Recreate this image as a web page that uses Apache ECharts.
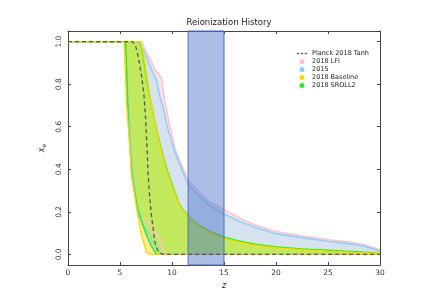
<!DOCTYPE html>
<html>
<head>
<meta charset="utf-8">
<script src="https://cdn.jsdelivr.net/npm/echarts@6/dist/echarts.min.js"></script>
<style>html,body{margin:0;padding:0;background:#fff}#c{width:435px;height:308px}</style>
</head>
<body>
<div id="c"></div>
<script>
const xTicks = [0, 5, 10, 15, 20, 25, 30];
const yTicks = [0, 0.2, 0.4, 0.6, 0.8, 1.0];
const legendNames = ['Planck 2018 Tanh', '2018 LFI', '2015', '2018 Baseline', '2018 SROLL2'];
const tauBand = [11.55, 15];

const tanh = [[0,1],[6.2,1],[6.5,0.98],[6.75,0.93],[7.07,0.84],[7.3,0.75],[7.45,0.65],[7.6,0.5],[7.7,0.38],[7.85,0.27],[8.03,0.18],[8.35,0.06],[8.6,0.02],[8.9,0.003],[9.2,0],[30,0]];

const lfiUpper = [[0,1],[7.07,1],[7.55,0.95],[7.9,0.92],[8.35,0.87],[8.7,0.85],[9.0,0.83],[9.3,0.72],[9.8,0.6],[10.35,0.49],[11.0,0.41],[11.55,0.35],[12.5,0.3],[13.5,0.25],[15,0.21],[16.5,0.17],[18,0.138],[20,0.108],[22.5,0.087],[25,0.069],[27,0.058],[28.5,0.045],[30,0.022]];
const lfiLower = [[0,1],[5.5,1],[5.8,0.7],[6.1,0.45],[6.5,0.27],[6.9,0.18],[7.3,0.16],[7.7,0.15],[8.05,0.125],[8.35,0.105],[8.83,0.074],[9.1,0.03],[9.3,0],[30,0]];

const b15Upper = [[0,1],[6.75,1],[7.23,0.965],[7.7,0.91],[8.03,0.87],[8.2,0.85],[8.5,0.82],[8.85,0.74],[9.15,0.69],[9.6,0.59],[10.2,0.49],[10.6,0.44],[11.55,0.33],[12.5,0.28],[13.5,0.235],[15,0.19],[16.5,0.155],[18,0.127],[20,0.097],[22.5,0.078],[25,0.061],[27,0.05],[28.5,0.038],[30,0.016]];
const b15Lower = [[0,1],[5.5,1],[5.8,0.7],[6.15,0.42],[6.6,0.24],[7.2,0.14],[7.87,0.09],[8.4,0.04],[9.0,0],[30,0]];

const baseUpper = [[0,1],[6.95,1],[7.3,0.93],[7.6,0.83],[8.0,0.71],[8.5,0.585],[9.0,0.48],[9.5,0.39],[10.0,0.32],[10.75,0.225],[11.55,0.175],[12.5,0.135],[13.5,0.105],[15,0.075],[16.5,0.056],[18,0.043],[20,0.03],[22.5,0.022],[25,0.015],[27.5,0.009],[30,0.004]];
const baseLower = [[0,1],[5.4,1],[5.63,0.7],[5.88,0.55],[6.1,0.37],[6.6,0.215],[7.07,0.09],[7.55,0.01],[7.87,0],[30,0]];

const sroUpper = [[0,1],[6.9,1],[7.25,0.93],[7.55,0.83],[8.0,0.71],[8.5,0.59],[9.0,0.49],[9.5,0.40],[10.0,0.33],[10.75,0.23],[11.55,0.18],[12.5,0.14],[13.5,0.11],[15,0.081],[16.5,0.062],[18,0.048],[20,0.035],[22.5,0.026],[25,0.019],[27.5,0.012],[30,0.005]];
const sroLower = [[0,1],[5.55,1],[5.75,0.7],[5.95,0.5],[6.2,0.35],[6.75,0.2],[7.55,0.09],[8.0,0.04],[8.5,0],[30,0]];

const FONT = 'DejaVu Sans';
const chart = echarts.init(document.getElementById('c'), null, {renderer: 'canvas'});

function bandSeries(name, upper, lower, fill, z) {
  return {
    type: 'custom', name: name, z: z, silent: true,
    data: [[0, 0]],
    itemStyle: {color: fill},
    renderItem: function (params, api) {
      const pts = upper.map(p => api.coord(p)).concat(lower.slice().reverse().map(p => api.coord(p)));
      return {type: 'polygon', shape: {points: pts}, style: {fill: fill, stroke: null}};
    }
  };
}
function lineSeries(name, data, color, z, extra) {
  return Object.assign({
    type: 'line', name: name, data: data, z: z, showSymbol: false, symbol: 'none',
    lineStyle: {color: color, width: 1.4}, itemStyle: {color: color}, silent: true
  }, extra || {});
}

const axisLineStyle = {onZero: false, lineStyle: {color: '#444', width: 1}};
const tickStyle = {inside: true, length: 3, lineStyle: {color: '#444'}};

chart.setOption({
  animation: false,
  backgroundColor: '#fff',
  title: {text: 'Reionization History', left: 224, top: 13, textAlign: 'center',
    textStyle: {fontFamily: FONT, fontSize: 8.5, fontWeight: 'normal', color: '#222'}},
  legend: {
    orient: 'vertical', left: 292, top: 45, itemWidth: 10, itemHeight: 5, itemGap: 1,
    textStyle: {fontFamily: FONT, fontSize: 6.5, color: '#222'},
    data: [
      {name: legendNames[0], icon: 'path://M0,4h3v2h-3z M5,4h3v2h-3z M10,4h3v2h-3z', itemStyle: {color: '#666'}},
      {name: legendNames[1], icon: 'circle', itemStyle: {color: '#ffc0cb'}},
      {name: legendNames[2], icon: 'circle', itemStyle: {color: '#87cefa'}},
      {name: legendNames[3], icon: 'circle', itemStyle: {color: '#ffd700'}},
      {name: legendNames[4], icon: 'circle', itemStyle: {color: '#22ee22'}}
    ]
  },
  grid: {left: 68, right: 55, top: 31, bottom: 43},
  xAxis: [{
    type: 'value', min: 0, max: 30, interval: 5,
    name: 'z', nameLocation: 'middle', nameGap: 16,
    nameTextStyle: {fontFamily: FONT, fontSize: 8, fontStyle: 'italic', color: '#222'},
    axisLine: axisLineStyle, axisTick: tickStyle, splitLine: {show: false},
    axisLabel: {fontFamily: FONT, fontSize: 7.5, color: '#333', margin: 4,
      customValues: xTicks}
  }, {
    type: 'value', position: 'top', min: 0, max: 30, interval: 5,
    axisLine: axisLineStyle, axisTick: tickStyle, axisLabel: {show: false}, splitLine: {show: false}
  }],
  yAxis: [{
    type: 'value', min: -0.05, max: 1.05,
    name: '{a|x}{b|e}', nameLocation: 'middle', nameGap: 14, nameRotate: 90,
    nameTextStyle: {rich: {
      a: {fontFamily: FONT, fontSize: 8, fontStyle: 'italic', color: '#222'},
      b: {fontFamily: FONT, fontSize: 6, fontStyle: 'italic', color: '#222', verticalAlign: 'bottom', padding: [4, 0, 0, 0]}
    }},
    axisLine: axisLineStyle, splitLine: {show: false},
    axisTick: Object.assign({customValues: yTicks}, tickStyle),
    axisLabel: {fontFamily: FONT, fontSize: 7.5, color: '#333', rotate: 90, margin: 5,
      customValues: yTicks, formatter: v => v.toFixed(1)}
  }, {
    type: 'value', position: 'right', min: -0.05, max: 1.05,
    axisLine: axisLineStyle, splitLine: {show: false},
    axisTick: Object.assign({customValues: yTicks}, tickStyle),
    axisLabel: {show: false}
  }],
  series: [
    bandSeries('2018 LFI', lfiUpper, lfiLower, '#f7e2ea', 1),
    bandSeries('2015', b15Upper, b15Lower, '#d6e2ef', 1),
    bandSeries('2018 Baseline', baseUpper, baseLower, '#f8eca0', 1),
    bandSeries('2018 SROLL2', sroUpper, sroLower, '#c2e95e', 1),
    lineSeries('2018 LFI', lfiUpper, '#ffc0cb', 2),
    lineSeries('2018 LFI', lfiLower, '#ffc0cb', 2),
    lineSeries('2015', b15Upper, '#87cefa', 2),
    lineSeries('2015', b15Lower, '#87cefa', 2),
    lineSeries('2018 SROLL2', sroUpper, '#22ee22', 2),
    lineSeries('2018 SROLL2', sroLower, '#22ee22', 2),
    lineSeries('2018 Baseline', baseUpper, '#ffd700', 2),
    lineSeries('2018 Baseline', baseLower, '#ffd700', 2),
    {
      type: 'custom', name: 'tau', z: 3, silent: true, data: [[0, 0]],
      renderItem: function (params, api) {
        const a = api.coord([tauBand[0], 1.05]);
        const b = api.coord([tauBand[1], -0.05]);
        return {type: 'rect', shape: {x: a[0], y: a[1], width: b[0] - a[0], height: b[1] - a[1]},
          style: {fill: 'rgba(70,110,200,0.45)', stroke: '#4a6fc0', lineWidth: 1}};
      }
    },
    lineSeries('Planck 2018 Tanh', tanh, '#555', 4, {lineStyle: {color: '#555', width: 1.3, type: [4, 3]}})
  ]
});
</script>
</body>
</html>
